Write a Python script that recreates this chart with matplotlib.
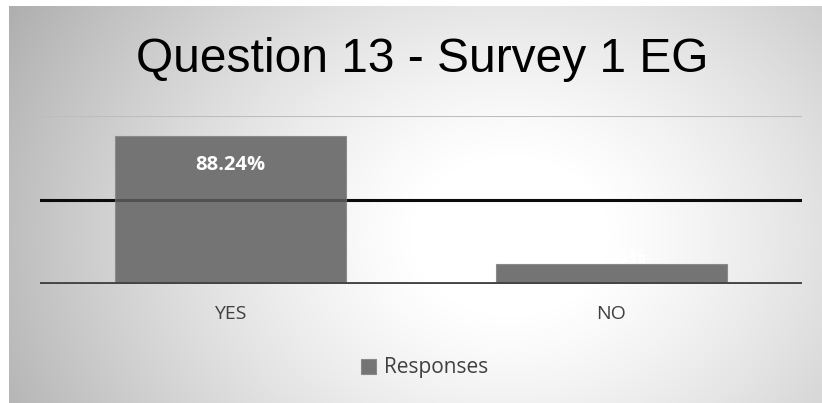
import numpy as np
import matplotlib
matplotlib.use("Agg")
import matplotlib.pyplot as plt

categories = ["YES", "NO"]
responses = [88.24, 11.76]
labels = ["88.24%", "11.76%"]
title = "Question 13 - Survey 1 EG"
series_name = "Responses"

W, H = 822, 403
fig = plt.figure(figsize=(W / 100, H / 100), dpi=100)
fig.patch.set_facecolor("white")

# background radial gradient (chart area starting x=9, y=6)
bg = fig.add_axes([9 / W, 0, 1 - 9 / W, 1 - 6 / H])
bg.set_axis_off()
yy, xx = np.mgrid[0:397, 0:813]
cx, cy = 500, 230
d = np.sqrt(((xx - cx) / 520.0) ** 2 + ((yy - cy) / 420.0) ** 2)
g = np.clip(1.03 - 0.30 * d ** 1.4, 0, 1)
bg.imshow(np.dstack([g, g, g]), aspect="auto", extent=[0, 1, 0, 1], origin="upper")
bg.set_xlim(0, 1)
bg.set_ylim(0, 1)

ax = fig.add_axes([40 / W, (H - 284) / H, 762 / W, (284 - 116) / H])
ax.patch.set_alpha(0)
x = np.arange(len(categories))
ax.set_xlim(-0.5, len(categories) - 0.5)
ax.set_ylim(0, 100)

ax.axhline(100, color="#bdbdbd", lw=1.5, zorder=1)
ax.axhline(50, color="#111111", lw=2.2, zorder=1)
bars = ax.bar(x, responses, width=0.605, color="#747474", edgecolor="#8a8a8a", lw=0.8, zorder=2)
ax.axhline(50, color="black", lw=2.2, alpha=0.3, zorder=3)
ax.axhline(0, color="#444444", lw=3.5, zorder=4)

offsets = [-29, 6]
for b, lab, off in zip(bars, labels, offsets):
    ax.annotate(lab, (b.get_x() + b.get_width() / 2, b.get_height()), xytext=(0, off * 0.72),
                textcoords="offset points", ha="center", va="center", color="white",
                fontsize=14.5, fontweight="bold", family="Open Sans", zorder=5)

for s in ax.spines.values():
    s.set_visible(False)
ax.set_yticks([])
ax.set_xticks(x)
ax.set_xticklabels(categories, fontsize=14, color="#404040", family="Open Sans")
ax.tick_params(axis="x", length=0, pad=15)

fig.text(422 / W, 1 - 72 / H, title, ha="center", va="baseline", fontsize=34.5,
         family="Liberation Sans", color="black")

# legend
leg = ax.legend([bars[0]], [series_name], loc="center", bbox_to_anchor=(425 / W, 1 - 368 / H),
                bbox_transform=fig.transFigure, frameon=False,
                prop={"family": "Open Sans", "size": 15}, handlelength=0.7, handleheight=0.7,
                handletextpad=0.4, labelcolor="#404040")

fig.savefig("out.png", dpi=100)
